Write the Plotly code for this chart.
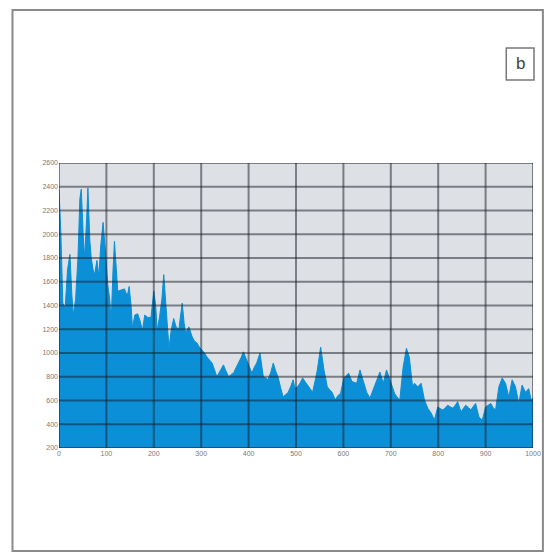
import plotly.graph_objects as go

# ---- data ----
x_vals = [0, 4, 8, 13, 18, 23, 27, 30, 35, 40, 44, 47, 51, 54, 58, 61, 65, 68, 72, 75,
          80, 84, 88, 93, 97, 103, 107, 110, 114, 117, 121, 124, 131, 138, 144, 148, 152, 155, 160, 166,
          171, 176, 181, 187, 194, 200, 204, 207, 212, 217, 221, 226, 232, 237, 242, 247, 253, 256, 260, 264,
          267, 274, 281, 286, 291, 296, 302, 307, 312, 318, 323, 328, 333, 340, 347, 352, 358, 363, 368, 374,
          379, 384, 389, 396, 402, 407, 412, 417, 424, 428, 431, 436, 441, 447, 452, 457, 462, 468, 473, 478,
          483, 489, 494, 498, 503, 509, 514, 519, 524, 530, 535, 540, 545, 552, 555, 559, 563, 566, 571, 576,
          583, 588, 594, 601, 606, 611, 618, 623, 628, 635, 642, 649, 656, 661, 666, 671, 677, 684, 691, 696,
          701, 708, 713, 719, 726, 733, 739, 746, 750, 757, 764, 771, 778, 785, 792, 799, 805, 810, 815, 820,
          826, 831, 836, 841, 848, 853, 858, 864, 869, 874, 879, 886, 893, 900, 905, 911, 916, 921, 928, 935,
          942, 949, 956, 963, 970, 977, 984, 991, 996, 1000]
y_vals = [2380, 2000, 1420, 1380, 1700, 1830, 1500, 1320, 1450, 1800, 2300, 2380, 2000, 1800, 2100, 2390, 1950, 1800, 1700, 1660,
          1780, 1650, 1900, 2100, 1900, 1570, 1450, 1260, 1700, 1940, 1700, 1520, 1530, 1540, 1480, 1560, 1400, 1210, 1320, 1330,
          1270, 1190, 1320, 1300, 1300, 1520, 1400, 1190, 1300, 1450, 1660, 1400, 1040, 1200, 1290, 1220, 1200, 1300, 1420, 1250,
          1170, 1220, 1135, 1100, 1085, 1050, 1025, 1000, 967, 940, 915, 860, 800, 850, 900, 850, 800, 820, 830, 880,
          915, 960, 1010, 940, 880, 830, 880, 915, 1000, 900, 800, 790, 775, 840, 915, 850, 800, 700, 630, 650,
          665, 720, 775, 700, 715, 750, 790, 760, 730, 700, 670, 760, 857, 1050, 950, 857, 780, 715, 690, 670,
          605, 640, 660, 790, 810, 830, 760, 750, 745, 857, 760, 670, 620, 670, 715, 780, 840, 745, 857, 800,
          745, 660, 630, 605, 880, 1040, 965, 715, 745, 715, 745, 605, 535, 495, 435, 545, 530, 520, 540, 560,
          545, 535, 560, 590, 505, 530, 560, 540, 520, 550, 575, 460, 435, 545, 560, 575, 540, 520, 715, 790,
          745, 630, 775, 715, 575, 730, 670, 700, 605, 620]

x_ticks = [0, 100, 200, 300, 400, 500, 600, 700, 800, 900, 1000]
y_ticks = [200, 400, 600, 800, 1000, 1200, 1400, 1600, 1800, 2000, 2200, 2400, 2600]
panel_label = "b"

# the page body has an 8px margin, so the figure is drawn 8px in from the window edge
OFF = 8
W, H = 553 - OFF, 560 - OFF
L, R, T, B = 59 - OFF, 538 - OFF, 163 - OFF, 448 - OFF  # plot area in figure px


def px_to_paper_x(px):
    return (px - OFF - L) / (R - L)


def px_to_paper_y(py):
    return (B - (py - OFF)) / (B - T)


fig = go.Figure()
fig.add_trace(go.Scatter(
    x=x_vals, y=y_vals, mode="lines", fill="tozeroy",
    line=dict(color="#0b8fd6", width=1),
    fillcolor="#0b8fd6", hoverinfo="skip", showlegend=False,
))

shapes = []
grid_col = "rgba(25,25,35,0.5)"
for xv in x_ticks:
    shapes.append(dict(type="line", xref="x", yref="paper", x0=xv, x1=xv, y0=0, y1=1,
                       line=dict(color=grid_col, width=2), layer="above"))
for yv in y_ticks:
    shapes.append(dict(type="line", xref="paper", yref="y", x0=0, x1=1, y0=yv, y1=yv,
                       line=dict(color=grid_col, width=2), layer="above"))
# outer frame
shapes.append(dict(type="rect", xref="paper", yref="paper",
                   x0=px_to_paper_x(12), x1=px_to_paper_x(548),
                   y0=px_to_paper_y(551), y1=px_to_paper_y(10),
                   line=dict(color="#8a8a8a", width=2), layer="below"))
# label box
shapes.append(dict(type="rect", xref="paper", yref="paper",
                   x0=px_to_paper_x(511), x1=px_to_paper_x(539),
                   y0=px_to_paper_y(80), y1=px_to_paper_y(48),
                   line=dict(color="#777777", width=1.5), layer="below"))

fig.update_layout(
    width=W, height=H,
    margin=dict(l=L, r=W - R, t=T, b=H - B, pad=0),
    paper_bgcolor="white",
    plot_bgcolor="#dde0e4",
    shapes=shapes,
    annotations=[dict(text=panel_label, xref="paper", yref="paper",
                      x=px_to_paper_x(525), y=px_to_paper_y(63),
                      xanchor="center", yanchor="middle",
                      showarrow=False, font=dict(family="Arial, Liberation Sans", size=17, color="#444"))],
    xaxis=dict(range=[0, 1000], tickvals=x_ticks, ticktext=[str(v) for v in x_ticks],
               showgrid=False, zeroline=False, showline=False, ticks="",
               tickfont=dict(family="Arial, Liberation Sans", size=7, color="#777"),
               fixedrange=True),
    yaxis=dict(range=[200, 2600], tickvals=y_ticks, ticktext=[str(v) for v in y_ticks],
               showgrid=False, zeroline=False, showline=False, ticks="",
               tickfont=dict(family="Arial, Liberation Sans", size=7, color="#777"),
               fixedrange=True),
)

fig.write_html("out.html")
